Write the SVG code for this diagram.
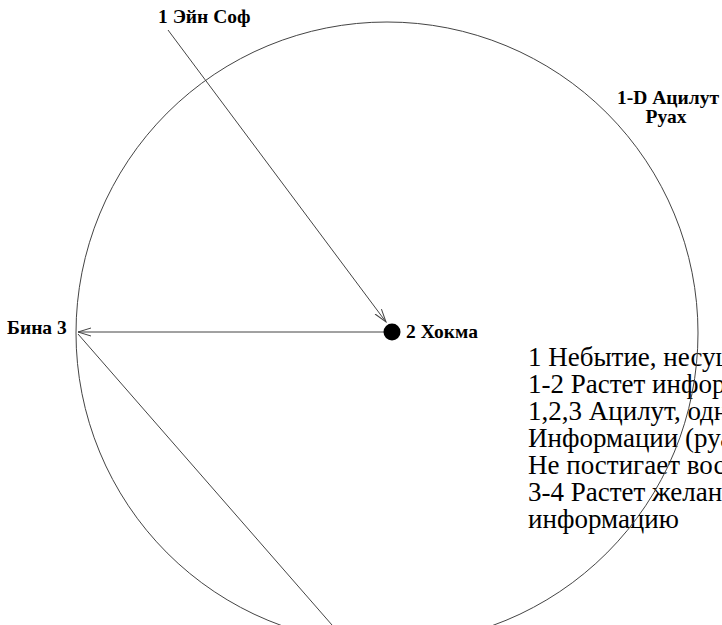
<svg xmlns="http://www.w3.org/2000/svg" width="722" height="625" viewBox="0 0 722 625">
<style>
.lbl{font-family:"Liberation Serif","DejaVu Serif","Times New Roman",serif;font-weight:bold;font-size:19.5px;fill:#000}
.txt{font-family:"Liberation Serif","DejaVu Serif","Times New Roman",serif;font-size:27px;fill:#000}
.ln{stroke:#444;stroke-width:1;fill:none}
</style>
<defs>
<marker id="ah" markerWidth="14" markerHeight="10" refX="13" refY="5" orient="auto" markerUnits="userSpaceOnUse">
<path d="M0,1 L13,5 L0,9" fill="none" stroke="#444" stroke-width="1"/>
</marker>
</defs>
<rect width="722" height="625" fill="#fff"/>
<g id="paragraph">
<text class="txt" x="528" y="366">1 Небытие, несущ</text>
<text class="txt" x="528" y="393">1-2 Растет инфор</text>
<text class="txt" x="528" y="420">1,2,3 Ацилут, одн</text>
<text class="txt" x="528" y="447">Информации (руа</text>
<text class="txt" x="528" y="474">Не постигает вос</text>
<text class="txt" x="528" y="501">3-4 Растет желани</text>
<text class="txt" x="528" y="528">информацию</text>
</g>
<g id="circle-atziluth">
<circle cx="387" cy="333" r="311" class="ln"/>
<text class="lbl" x="617" y="104">1-D Ацилут</text>
<text class="lbl" x="666" y="123" text-anchor="middle">Руах</text>
</g>
<g id="connectors">
<line class="ln" x1="168" y1="30" x2="386" y2="322" marker-end="url(#ah)"/>
<line class="ln" x1="385" y1="332" x2="78" y2="332" marker-end="url(#ah)"/>
<line class="ln" x1="78" y1="334" x2="332" y2="625"/>
</g>
<g id="ein-sof">
<text class="lbl" x="158" y="23">1 Эйн Соф</text>
</g>
<g id="hokhma">
<circle cx="392" cy="332" r="8.5" fill="#000"/>
<text class="lbl" x="406" y="338">2 Хокма</text>
</g>
<g id="bina">
<text class="lbl" x="7" y="334">Бина 3</text>
</g>
</svg>
